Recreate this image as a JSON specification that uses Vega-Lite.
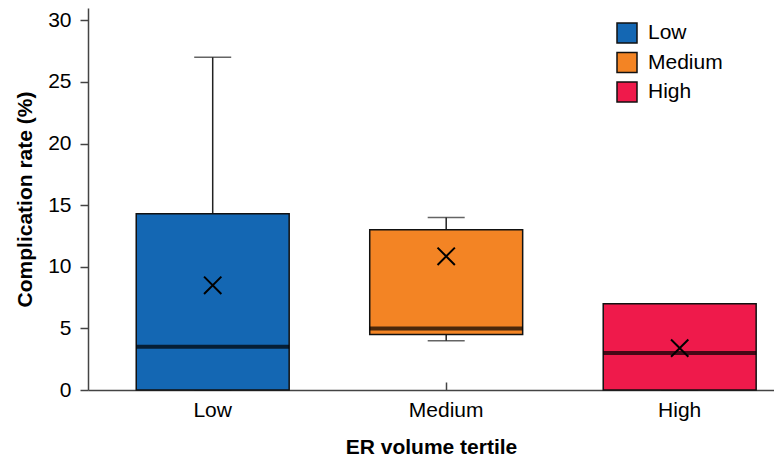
{
  "$schema": "https://vega.github.io/schema/vega-lite/v6.json",
  "autosize": "none",
  "width": 686,
  "height": 382,
  "padding": {"left": 88, "top": 8, "right": 0, "bottom": 68},
  "config": {
    "font": "Liberation Sans",
    "view": {"stroke": null},
    "axis": {"grid": false, "domainColor": "#444444", "domainWidth": 1.5, "tickColor": "#444444", "tickWidth": 1.5, "labelFontSize": 21, "labelColor": "#000000", "titleFontSize": 21, "titleFontWeight": "bold", "titleColor": "#000000"}
  },
  "data": {
    "values": [
      {"tertile": "Low", "min": 0, "q1": 0, "median": 3.5, "q3": 14.3, "max": 27, "mean": 8.5},
      {"tertile": "Medium", "min": 4, "q1": 4.5, "median": 5, "q3": 13, "max": 14, "mean": 10.85},
      {"tertile": "High", "min": 0, "q1": 0, "median": 3, "q3": 7, "max": 7, "mean": 3.4}
    ]
  },
  "encoding": {
    "x": {
      "field": "tertile", "type": "nominal", "sort": ["Low", "Medium", "High"],
      "scale": {"paddingInner": 0.345, "paddingOuter": 0.1415, "align": 0.73},
      "axis": {"title": "ER volume tertile", "labelAngle": 0, "tickSize": -8, "labelPadding": 17, "titlePadding": 16}
    }
  },
  "layer": [
    {
      "mark": {"type": "rule", "color": "#222222", "strokeWidth": 1.5},
      "encoding": {
        "y": {"field": "min", "type": "quantitative", "scale": {"domain": [0, 31], "nice": false},
          "axis": {"title": "Complication rate (%)", "values": [0, 5, 10, 15, 20, 25, 30], "tickSize": 8, "labelPadding": 9, "titlePadding": 12}},
        "y2": {"field": "max"}
      }
    },
    {
      "mark": {"type": "tick", "color": "#222222", "thickness": 1.5, "size": 37, "orient": "horizontal"},
      "encoding": {"y": {"field": "max", "type": "quantitative"}}
    },
    {
      "mark": {"type": "tick", "color": "#222222", "thickness": 1.5, "size": 37, "orient": "horizontal"},
      "encoding": {"y": {"field": "min", "type": "quantitative"}}
    },
    {
      "mark": {"type": "bar", "stroke": "#111111", "strokeWidth": 1.5},
      "encoding": {
        "y": {"field": "q1", "type": "quantitative"},
        "y2": {"field": "q3"},
        "fill": {
          "field": "tertile", "type": "nominal",
          "scale": {"domain": ["Low", "Medium", "High"], "range": ["#1467B3", "#F38424", "#EF1A4B"]},
          "legend": {"title": null, "orient": "none", "legendX": 528, "legendY": 14, "symbolType": "square", "symbolSize": 400, "symbolStrokeColor": "#111111", "symbolStrokeWidth": 1.5, "labelFontSize": 21, "labelColor": "#000000", "rowPadding": 3.5, "labelOffset": 10, "padding": 0}
        }
      }
    },
    {
      "mark": {"type": "tick", "color": "#000000", "thickness": 4, "size": 153, "orient": "horizontal"},
      "encoding": {"y": {"field": "median", "type": "quantitative"}}
    },
    {
      "mark": {"type": "point", "shape": "M-1,-1L1,1M-1,1L1,-1", "size": 300, "filled": false, "stroke": "#000000", "strokeWidth": 2, "opacity": 1},
      "encoding": {"y": {"field": "mean", "type": "quantitative"}}
    }
  ]
}
